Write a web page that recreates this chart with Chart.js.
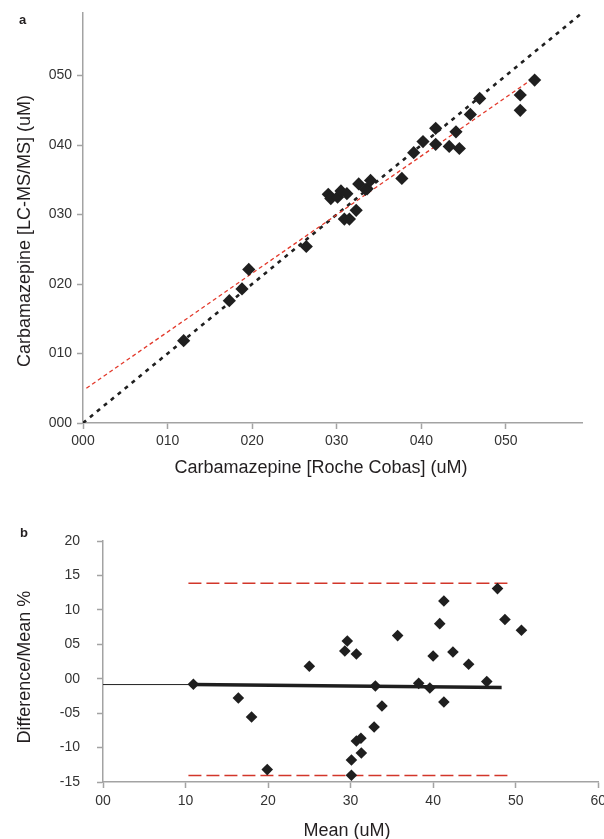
<!DOCTYPE html>
<html>
<head>
<meta charset="utf-8">
<script src="https://cdn.jsdelivr.net/npm/chart.js@4.4.1/dist/chart.umd.min.js"></script>
<style>
  body { margin: 0; background: #fff; width: 604px; height: 839px; position: relative; overflow: hidden;
         font-family: "Liberation Sans", Arial, sans-serif; color: #231f20; }
  .box { position: absolute; left: 0; width: 604px; }
  #boxA { top: 0; height: 490px; }
  #boxB { top: 490px; height: 349px; }
  canvas { display: block; }
  .lbl { position: absolute; white-space: nowrap; line-height: 1; }
  .panel { font-weight: bold; font-size: 13px; }
  .ttl { font-size: 18px; transform: translate(-50%, -50%); }
  .ttl.v { transform: translate(-50%, -50%) rotate(-90deg); }
</style>
</head>
<body>
<div class="box" id="boxA"><canvas id="chartA" width="604" height="490"></canvas></div>
<div class="box" id="boxB"><canvas id="chartB" width="604" height="349"></canvas></div>

<div class="lbl panel" style="left:19px; top:13px;">a</div>
<div class="lbl panel" style="left:20px; top:526px;">b</div>
<div class="lbl ttl" style="left:321px; top:467px;">Carbamazepine [Roche Cobas] (uM)</div>
<div class="lbl ttl v" style="left:24px; top:231px;">Carbamazepine [LC-MS/MS] (uM)</div>
<div class="lbl ttl v" style="left:24px; top:667px;">Difference/Mean %</div>
<div class="lbl ttl" style="left:347px; top:830px;">Mean (uM)</div>

<script>
// ---- Panel a: method comparison (Roche Cobas vs LC-MS/MS), uM ----
const cobas = [53.4, 51.7, 51.7, 46.9, 45.8, 44.1, 44.5, 43.3, 41.7, 41.7,
               40.2, 39.1, 37.7, 34.0, 32.6, 33.6, 33.4, 29.0, 29.3, 30.1,
               30.5, 31.2, 32.3, 30.9, 31.5, 26.4, 19.6, 18.8, 17.3, 11.9];
const lcms  = [49.35, 47.2, 45.0, 46.7, 44.4, 41.9, 39.5, 39.8, 42.4, 40.1,
               40.5, 38.9, 35.2, 34.9, 34.4, 33.7, 33.6, 32.9, 32.3, 32.5,
               33.4, 33.0, 30.6, 29.35, 29.35, 25.4, 22.1, 19.3, 17.6, 11.85];
const identityX = [0, 59];
const identityY = [0, 59];
const fitX = [0.4, 53.6];
const fitY = [5.0, 49.9];

// ---- Panel b: difference plot ----
const meanConc = [47.8, 41.3, 40.8, 48.7, 50.7, 35.7, 29.6, 29.3, 30.7, 40.0,
                  42.4, 44.3, 25.0, 46.5, 38.25, 39.6, 33.0, 41.3, 33.8, 32.85,
                  30.7, 31.25, 31.3, 30.1, 30.1, 10.95, 16.4, 18.0, 19.9];
const diffPct  = [13.09, 11.29, 8.0, 8.59, 7.03, 6.26, 5.48, 4.03, 3.59, 3.30,
                  3.88, 2.09, 1.80, -0.42, -0.67, -1.35, -1.06, -3.38, -3.96, -7.01,
                  -9.04, -8.65, -10.79, -11.80, -14.03, -0.81, -2.80, -5.56, -13.20];
const biasX = [0, 10.95, 48.3];
const biasY = [-0.85, -0.85, -1.29];
const limitX = [10.35, 49.55];
const upperLimit = 13.86;
const lowerLimit = -14.07;

const axisGrey = '#a3a3a3';
const ink = '#1f1f1f';
const limitRed = '#d2362a';
const tickFont = { family: '"Liberation Sans", Arial, sans-serif', size: 14 };

const pts = (xs, ys) => xs.map((x, i) => ({ x, y: ys[i] }));
const pad3 = v => String(Math.abs(v)).padStart(3, '0');
const pad2 = v => (v < 0 ? '-' : '') + String(Math.abs(v)).padStart(2, '0');

// fixed axis box sizes so the plot area sits where it should
const fixBox = size => s => {
  if (s.isHorizontal()) s.height = size; else s.width = size;
  s.paddingLeft = s.paddingRight = s.paddingTop = s.paddingBottom = 0;
};

function axis(min, max, step, fmt, boxSize, pad) {
  return {
    type: 'linear', min, max,
    ticks: { stepSize: step, includeBounds: false, callback: fmt, font: tickFont,
             color: '#333', padding: pad, maxRotation: 0, autoSkip: false },
    grid: { drawOnChartArea: false, drawTicks: true, tickLength: 6, tickColor: axisGrey, tickWidth: 1.5 },
    border: { display: true, color: axisGrey, width: 1.5 },
    afterFit: fixBox(boxSize)
  };
}

const common = {
  responsive: false, animation: false, devicePixelRatio: 1,
  plugins: { legend: { display: false }, tooltip: { enabled: false } }
};

new Chart(document.getElementById('chartA'), {
  type: 'scatter',
  data: {
    datasets: [
      { data: pts(cobas, lcms), pointStyle: 'rectRot', pointRadius: 6.6,
        backgroundColor: ink, borderWidth: 0, order: 0 },
      { data: pts(identityX, identityY), showLine: true, borderColor: ink, borderWidth: 2.6,
        borderDash: [4, 5], pointRadius: 0, order: 2 },
      { data: pts(fitX, fitY), showLine: true, borderColor: '#e3392b', borderWidth: 1.3,
        borderDash: [4, 3], pointRadius: 0, order: 1 }
    ]
  },
  options: Object.assign({}, common, {
    layout: { padding: { top: 13, right: 22, left: 0, bottom: 0 } },
    scales: {
      x: axis(0, 59, 10, pad3, 67, 4),
      y: axis(0, 59, 10, pad3, 83, 5)
    }
  })
});

new Chart(document.getElementById('chartB'), {
  type: 'scatter',
  data: {
    datasets: [
      { data: pts(meanConc, diffPct), pointStyle: 'rectRot', pointRadius: 5.8,
        backgroundColor: ink, borderWidth: 0, order: 0 },
      { data: pts(biasX.slice(0, 2), biasY.slice(0, 2)), showLine: true, borderColor: ink,
        borderWidth: 1, pointRadius: 0, order: 1 },
      { data: pts(biasX.slice(1), biasY.slice(1)), showLine: true, borderColor: ink,
        borderWidth: 3.5, pointRadius: 0, order: 1 },
      { data: pts(limitX, [upperLimit, upperLimit]), showLine: true, borderColor: limitRed,
        borderWidth: 1.5, borderDash: [13, 5], pointRadius: 0, order: 2 },
      { data: pts(limitX, [lowerLimit, lowerLimit]), showLine: true, borderColor: limitRed,
        borderWidth: 1.5, borderDash: [13, 5], pointRadius: 0, order: 2 }
    ]
  },
  options: Object.assign({}, common, {
    layout: { padding: { top: 51, right: 1, left: 0, bottom: 0 } },
    scales: {
      x: axis(0, 60, 10, pad2, 57, 5),
      y: axis(-15, 20, 5, pad2, 103, 17)
    }
  })
});
</script>
</body>
</html>
